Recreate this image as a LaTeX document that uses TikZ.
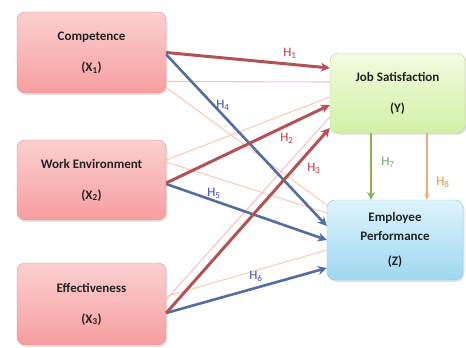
\documentclass[tikz,border=0pt]{standalone}
\usepackage{fontspec}
\setmainfont{Carlito}
\usetikzlibrary{arrows.meta,shadows}
\definecolor{pinkT}{RGB}{251,208,208}
\definecolor{pinkB}{RGB}{246,158,160}
\definecolor{pinkD}{RGB}{226,146,148}
\definecolor{greenT}{RGB}{242,251,224}
\definecolor{greenB}{RGB}{210,240,166}
\definecolor{greenD}{RGB}{182,214,142}
\definecolor{blueT}{RGB}{222,243,252}
\definecolor{blueB}{RGB}{158,216,242}
\definecolor{blueD}{RGB}{140,198,224}
\definecolor{redA}{RGB}{178,82,86}
\definecolor{blueA}{RGB}{82,110,160}
\definecolor{thinA}{RGB}{246,206,184}
\definecolor{thinB}{RGB}{240,198,198}
\definecolor{greenA}{RGB}{140,178,82}
\definecolor{orangeA}{RGB}{236,172,124}
\definecolor{redL}{RGB}{200,52,62}
\definecolor{blueL}{RGB}{62,72,180}
\definecolor{greenL}{RGB}{96,168,104}
\definecolor{orangeL}{RGB}{232,142,62}
\definecolor{txt}{RGB}{35,35,35}
\tikzset{
  box/.style={rounded corners=8pt, minimum width=149pt, minimum height=81pt,
    align=center, font=\fontsize{13}{15}\selectfont\bfseries, text=txt,
    drop shadow={opacity=0.22, shadow xshift=1.5pt, shadow yshift=-1.8pt}},
  xbox/.style={box, draw=pinkD, top color=pinkT, bottom color=pinkB},
  ybox/.style={box, draw=greenD, top color=greenT, bottom color=greenB, minimum width=135pt, minimum height=80pt},
  zbox/.style={box, draw=blueD, top color=blueT, bottom color=blueB, minimum width=136pt, minimum height=80pt},
  thick red/.style={draw=redA, line width=3pt, -{Stealth[length=9pt,width=9pt]}},
  thick blue/.style={draw=blueA, line width=2.6pt, -{Stealth[length=9pt,width=9pt]}},
  thin line/.style={draw=thinA, line width=1.1pt},
  thin pink/.style={draw=thinB, line width=1.1pt},
  hlab/.style={font=\fontsize{13}{14}\selectfont},
}
\begin{document}
\begin{tikzpicture}[x=1pt,y=-1pt]
\useasboundingbox (0,0) rectangle (466,348);
% boxes
\node[xbox] (comp) at (91.5,52.5) {Competence\\[16pt](X\textsubscript{1})};
\node[xbox, minimum height=80pt] (we) at (91.5,180) {Work Environment\\[16pt](X\textsubscript{2})};
\node[xbox, minimum height=82pt] (eff) at (91.5,304) {Effectiveness\\[16pt](X\textsubscript{3})};
\node[ybox] (js) at (397.5,93) {Job Satisfaction\\[16pt](Y)};
\node[zbox, font=\fontsize{13}{19}\selectfont\bfseries] (ep) at (395,240) {Employee\\Performance\\[6pt](Z)};
% thin lines
\draw[thin pink] ([yshift=-29pt]comp.east) -- ([yshift=11pt]js.west);
\draw[thin line] ([yshift=-35pt]comp.east) -- ([yshift=35pt]ep.west);
\draw[thin line] ([yshift=20pt]we.east) -- ([yshift=-4pt]js.west);
\draw[thin line] ([yshift=18pt]we.east) -- ([yshift=27pt]ep.west);
\draw[thin pink] ([yshift=4.5pt]eff.east) -- ([yshift=-24pt]js.west);
\draw[thin line] ([yshift=7.5pt]eff.east) -- ([yshift=-10pt]ep.west);
% thick arrows
\draw[thick blue] ([yshift=-2pt]comp.east) -- ([yshift=14pt]ep.west);
\draw[thick blue] ([yshift=-4pt]we.east) -- ([yshift=0pt]ep.west);
\draw[thick blue] ([yshift=-9pt]eff.east) -- ([yshift=-28pt]ep.west);
\draw[thick red] (comp.east) -- ([yshift=25pt]js.west);
\draw[thick red] ([yshift=-3pt]we.east) -- ([yshift=-12pt]js.west);
\draw[thick red] ([yshift=-9pt]eff.east) -- ([yshift=-35pt]js.west);
% vertical arrows
\draw[draw=greenA, line width=2.6pt, -{Stealth[length=8pt,width=8pt]}] ([xshift=-26.5pt]js.south) -- ([xshift=-24pt]ep.north);
\draw[draw=orangeA, line width=1.2pt, -{Stealth[length=6pt,width=5pt]}] ([xshift=29.5pt]js.south) -- ([xshift=32pt]ep.north);
% labels
\node[hlab, text=redL] (h1) at (290,53) {H\textsubscript{1}};
\node[hlab, text=redL] (h2) at (287,138) {H\textsubscript{2}};
\node[hlab, text=redL] (h3) at (314,168) {H\textsubscript{3}};
\node[hlab, text=blueL] (h4) at (223,105) {H\textsubscript{4}};
\node[hlab, text=blueL] (h5) at (214,193) {H\textsubscript{5}};
\node[hlab, text=blueL] (h6) at (256,276) {H\textsubscript{6}};
\node[hlab, text=greenL] (h7) at (388,162) {H\textsubscript{7}};
\node[hlab, text=orangeL] (h8) at (443,182) {H\textsubscript{8}};
\end{tikzpicture}
\end{document}
